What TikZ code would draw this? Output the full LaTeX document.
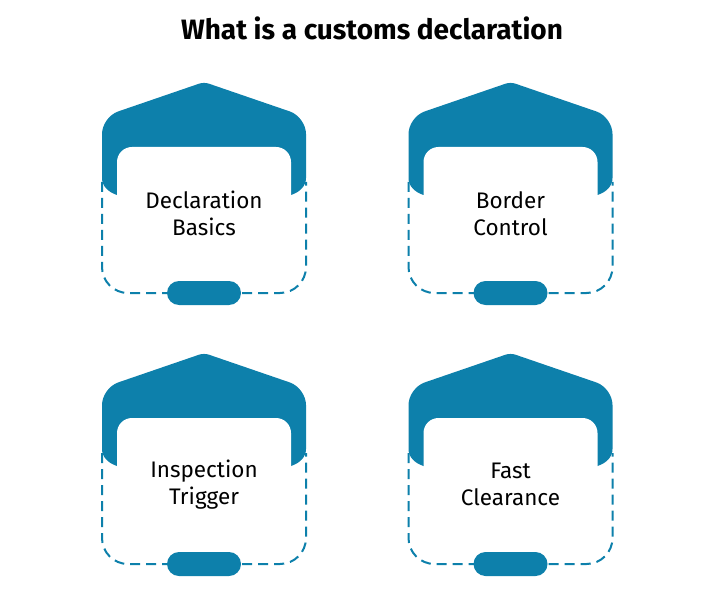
\documentclass[tikz,border=0pt]{standalone}
\usepackage{fontspec}
\setmainfont{Fira Sans}
\definecolor{brand}{HTML}{0D80AB}
\tikzset{
  dashline/.style={draw=brand, line width=2pt, dash pattern=on 10pt off 6pt},
  lbl/.style={align=center, text=black, font=\fontsize{22.5}{27}\selectfont, inner sep=0pt},
  titlefont/.style={font=\fontsize{28}{30}\selectfont\bfseries, text=black, inner sep=0pt},
}
\newcommand\mycard[4]{%
\begin{scope}[shift={(#1,#2)}]
  \draw[dashline, rounded corners=26] (-102,100) -- (-102,211) -- (102,211) -- (102,100);
  \fill[brand] (-87,113) .. controls (-96,110) and (-102,104) .. (-102,96)
     [rounded corners=17] -- (-102,35) [rounded corners=5] -- (0,0) [rounded corners=17] -- (102,35)
     [sharp corners] -- (102,96) .. controls (102,104) and (96,110) .. (87,113) -- cycle;
  \fill[white, rounded corners=15] (-87,65) rectangle (87,195);
  \fill[brand, rounded corners=12] (-37,199) rectangle (37,223);
  \node[lbl] (#4) at (0,131.5) {#3};
\end{scope}}
\begin{document}
\begin{tikzpicture}[x=1pt, y=-1pt]
  \useasboundingbox (0,0) rectangle (711,609);
  \fill[white] (0,0) rectangle (711,609);
  \node[titlefont] (title) at (372,28) {What is a customs declaration};
  \mycard{204}{82}{Declaration\\Basics}{c1}
  \mycard{510.5}{82}{Border\\Control}{c2}
  \mycard{204}{353}{Inspection\\Trigger}{c3}
  \mycard{510.5}{353}{Fast\\Clearance}{c4}
\end{tikzpicture}
\end{document}
